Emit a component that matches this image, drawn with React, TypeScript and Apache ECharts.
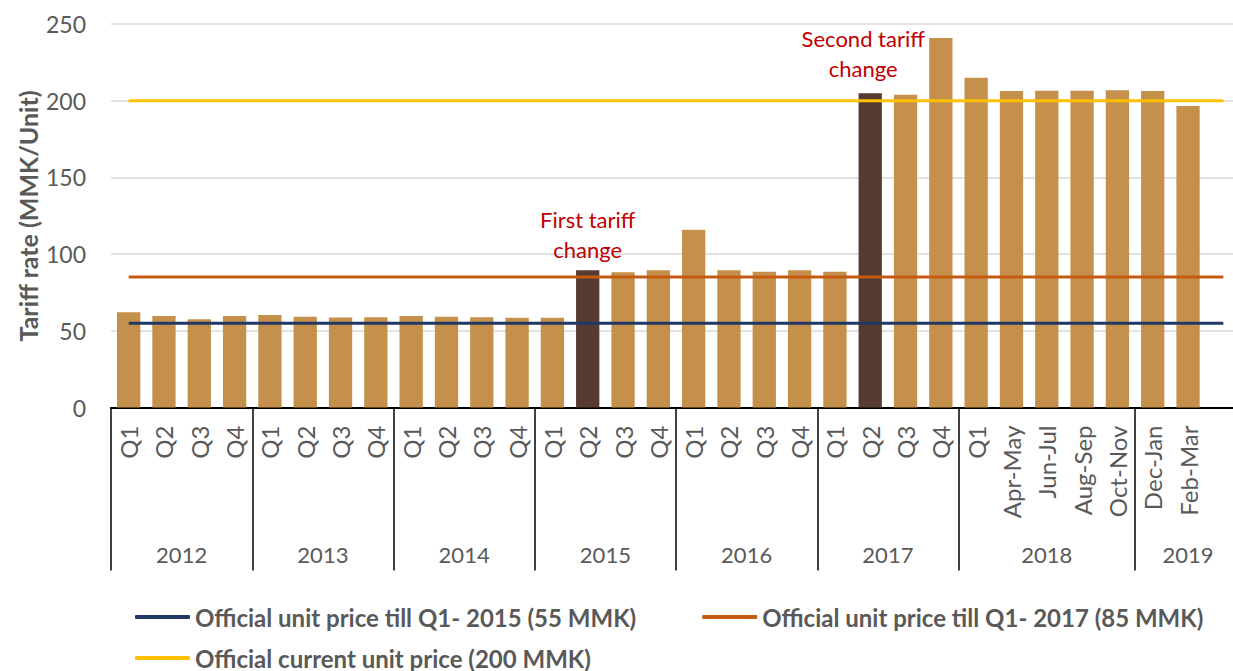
import React, { useEffect, useRef } from "react";
import * as echarts from "echarts";

// ---- Data ----
const YEARS = ["2012", "2013", "2014", "2015", "2016", "2017", "2018", "2019"];
const YEAR_COUNTS = [4, 4, 4, 4, 4, 4, 5, 3];
const PERIODS = [
  "Q1", "Q2", "Q3", "Q4",
  "Q1", "Q2", "Q3", "Q4",
  "Q1", "Q2", "Q3", "Q4",
  "Q1", "Q2", "Q3", "Q4",
  "Q1", "Q2", "Q3", "Q4",
  "Q1", "Q2", "Q3", "Q4",
  "Q1", "Apr-May", "Jun-Jul", "Aug-Sep", "Oct-Nov",
  "Dec-Jan", "Feb-Mar", "",
];
const TARIFF = [
  62.1, 59.6, 57.5, 59.6,
  60.3, 59.2, 58.6, 58.8,
  59.6, 59.2, 58.8, 58.5,
  58.5, 89.4, 88.1, 89.4,
  115.9, 89.4, 88.5, 89.4,
  88.5, 204.8, 203.9, 240.9,
  215.0, 206.3, 206.5, 206.5, 206.8,
  206.3, 196.5, null,
];
const TARIFF_CHANGES = [
  { index: 13, text: "First tariff\nchange" },
  { index: 21, text: "Second tariff\nchange" },
];
const OFFICIAL_NAMES = [
  "Official unit price till Q1- 2015 (55 MMK)",
  "Official unit price till Q1- 2017 (85 MMK)",
  "Official current unit price (200 MMK)",
];
const OFFICIAL_VALUES = [55, 85, 200];
const OFFICIAL_COLORS = ["#203864", "#C55A11", "#FFC000"];
const Y_TITLE = "Tariff rate (MMK/Unit)";

const FONT = "Lato";
const GRAY = "#595959";

export default function App() {
  const ref = useRef<HTMLDivElement>(null);

  useEffect(() => {
    if (!ref.current) return;
    const chart = echarts.init(ref.current, null, { renderer: "svg" });

    const categories = PERIODS.map((p, i) => `${i}|${p}`);
    const boundaries = new Set<number>();
    const yearCenters: Record<string, string> = {};
    let start = 0;
    YEARS.forEach((y, k) => {
      boundaries.add(start);
      yearCenters[String(start + YEAR_COUNTS[k] / 2)] = y;
      start += YEAR_COUNTS[k];
    });
    const lastIndex = PERIODS.length - 1;

    const barData = TARIFF.map((v, i) => {
      const change = TARIFF_CHANGES.find((c) => c.index === i);
      if (!change) return v;
      return {
        value: v,
        itemStyle: { color: "#573B31" },
        label: {
          show: true,
          position: "top",
          distance: i === 21 ? 10 : 6,
          offset: i === 21 ? [-7, 0] : [0, 0],
          formatter: change.text,
          color: "#C00000",
          fontSize: 22,
          lineHeight: 30,
          fontFamily: FONT,
        },
      };
    });

    const lineSeries = OFFICIAL_VALUES.map((v, k) => ({
      name: OFFICIAL_NAMES[k],
      type: "line",
      data: [[0, v], [lastIndex, v]],
      showSymbol: false,
      symbol: "none",
      lineStyle: { color: OFFICIAL_COLORS[k], width: 3 },
      itemStyle: { color: OFFICIAL_COLORS[k] },
      z: 5,
    }));

    const legendText = {
      fontSize: 24,
      fontWeight: "bold",
      color: GRAY,
      fontFamily: FONT,
    };

    chart.setOption({
      animation: false,
      textStyle: { fontFamily: FONT },
      grid: { left: 111, top: 24, height: 383.5, right: 0, containLabel: false },
      legend: [
        {
          data: [OFFICIAL_NAMES[0], OFFICIAL_NAMES[1]],
          left: 130,
          top: 600,
          itemWidth: 55,
          itemHeight: 4,
          icon: "roundRect",
          itemGap: 66,
          textStyle: legendText,
        },
        {
          data: [OFFICIAL_NAMES[2]],
          left: 130,
          top: 641,
          itemWidth: 55,
          itemHeight: 4,
          icon: "roundRect",
          textStyle: legendText,
        },
      ],
      graphic: [
        {
          type: "text",
          x: 28,
          y: 216,
          rotation: Math.PI / 2,
          style: {
            text: Y_TITLE,
            fontSize: 25,
            fontWeight: "bold",
            fill: GRAY,
            fontFamily: FONT,
            align: "center",
            verticalAlign: "middle",
          },
        },
      ],
      xAxis: [
        {
          type: "category",
          data: categories,
          boundaryGap: true,
          axisLine: { show: true, lineStyle: { color: "#000", width: 2 } },
          axisTick: {
            show: true,
            length: 163,
            interval: (idx: number) => boundaries.has(idx),
            lineStyle: { color: "#000", width: 1.5 },
          },
          axisLabel: {
            interval: 0,
            rotate: 90,
            margin: 18,
            fontSize: 24,
            color: GRAY,
            fontFamily: FONT,
            formatter: (v: string) => v.split("|")[1],
          },
          splitLine: { show: false },
        },
        {
          type: "value",
          position: "bottom",
          min: 0,
          max: PERIODS.length,
          interval: 0.5,
          offset: 136,
          axisLine: { show: false },
          axisTick: { show: false },
          splitLine: { show: false },
          axisLabel: {
            margin: 0,
            fontSize: 22,
            color: GRAY,
            fontFamily: FONT,
            verticalAlign: "top",
            formatter: (v: number) => yearCenters[String(v)] || "",
          },
        },
      ],
      yAxis: {
        type: "value",
        min: 0,
        max: 250,
        interval: 50,
        axisLine: { show: false },
        axisTick: { show: false },
        axisLabel: { fontSize: 23, color: GRAY, margin: 25, fontFamily: FONT },
        splitLine: { show: true, lineStyle: { color: "#D9D9D9", width: 1.5 } },
      },
      series: [
        {
          type: "bar",
          data: barData,
          barCategoryGap: "34%",
          itemStyle: { color: "#C4904B" },
          z: 2,
        },
        ...lineSeries,
      ],
    });

    return () => chart.dispose();
  }, []);

  return (
    <div style={{ position: "fixed", left: 0, top: 0, width: 1233, height: 671, overflow: "hidden", background: "#fff" }}>
      <div ref={ref} style={{ width: 1244, height: 671 }} />
    </div>
  );
}
